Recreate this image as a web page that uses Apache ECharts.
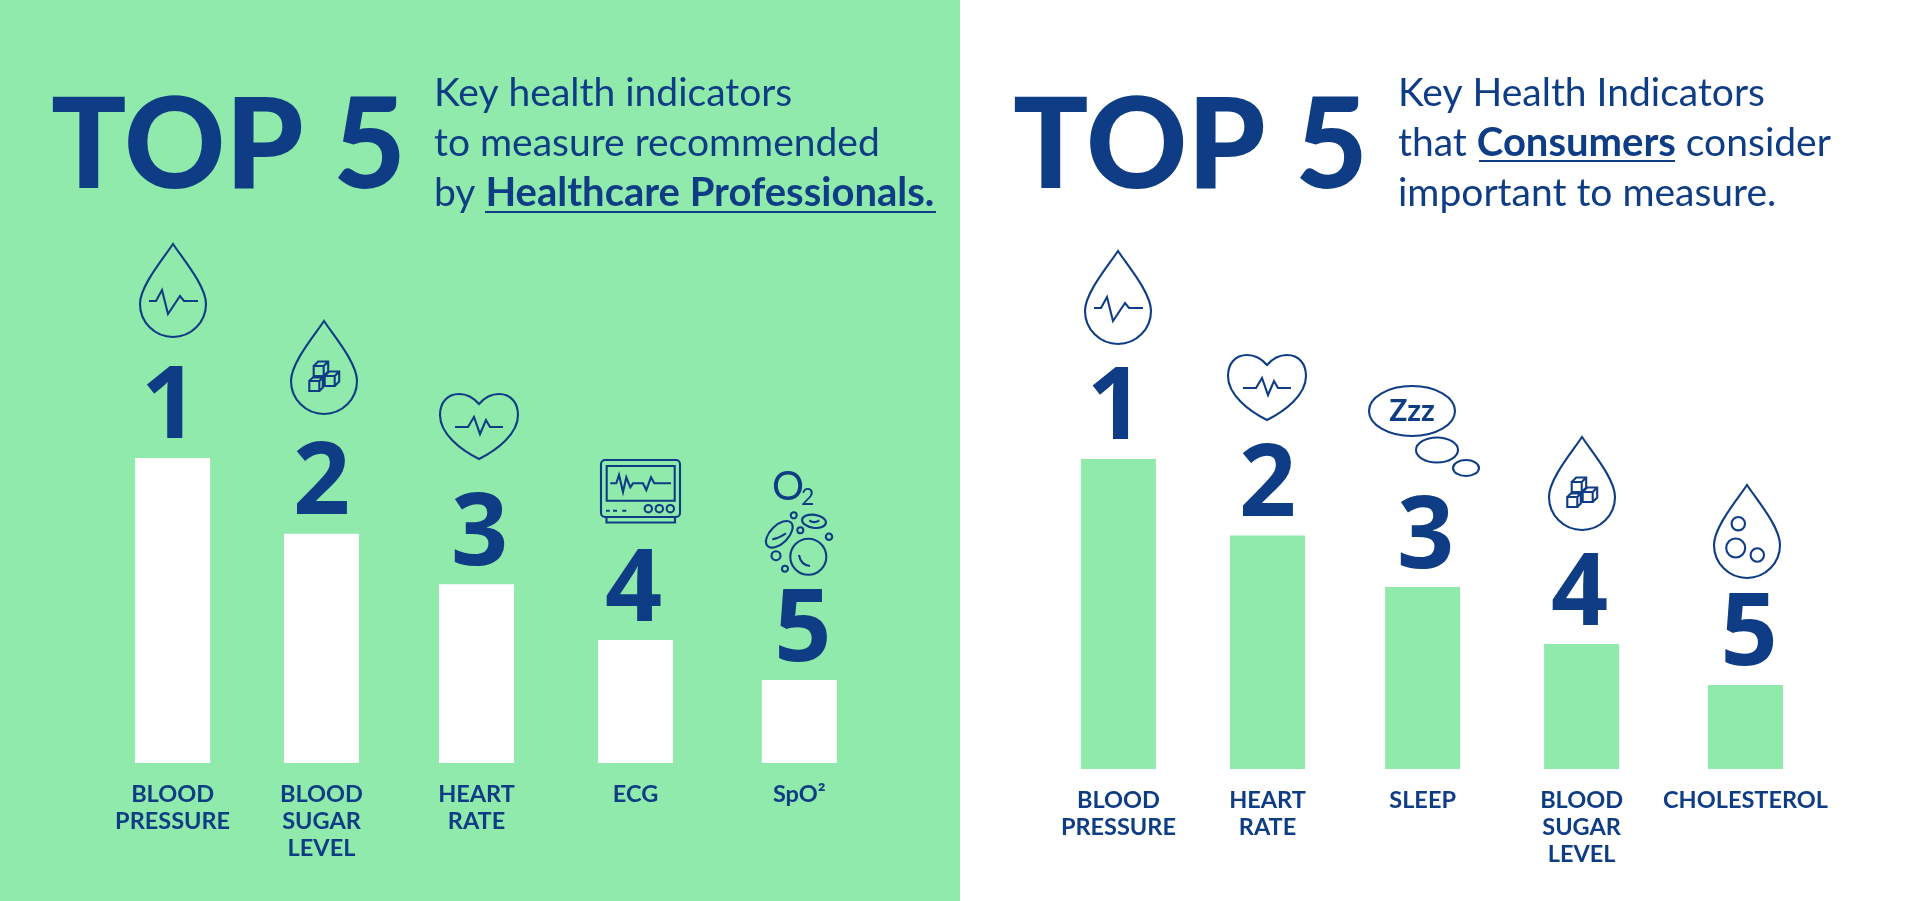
<!DOCTYPE html>
<html>
<head>
    <meta charset="utf-8" />
    <title>Top 5 health indicators</title>
    <script src="https://cdn.jsdelivr.net/npm/echarts@6/dist/echarts.min.js"></script>
    <style>
        html, body { margin: 0; padding: 0; background: #fff; }
        #main { width: 1920px; height: 901px; }
    </style>
</head>
<body>
    <div id="main"></div>
    <script type="text/javascript">
        // chart data (tallest bar = 100)
        var leftCategories = ['BLOOD\nPRESSURE', 'BLOOD\nSUGAR\nLEVEL', 'HEART\nRATE', 'ECG', 'SpO²'];
        var leftValues = [100, 75.2, 58.6, 40.3, 27.2];
        var rightCategories = ['BLOOD\nPRESSURE', 'HEART\nRATE', 'SLEEP', 'BLOOD\nSUGAR\nLEVEL', 'CHOLESTEROL'];
        var rightValues = [100, 75.3, 58.7, 40.3, 27.1];
        var ranks = ['1', '2', '3', '4', '5'];

        var NAVY = '#0f3d85';
        var GREEN = '#8feaab';
        var TEXT_FONT = 'Lato';

        var leftCenters = [172.6, 321.5, 476.5, 635.5, 799.3];
        var rightCenters = [1118.4, 1267.5, 1422.6, 1581.6, 1745.5];
        var rankShift = [-3, 0, 3, -2, 3.5];

        var grids = [], xAxes = [], yAxes = [], series = [];

        function addBar(name, value, rank, center, top, height, fill, shift) {
            var i = grids.length;
            grids.push({ left: center - 70, width: 140, top: top, height: height });
            xAxes.push({
                type: 'category', gridIndex: i, data: [name],
                axisLine: { show: false }, axisTick: { show: false },
                axisLabel: {
                    interval: 0, margin: 18, color: NAVY, lineHeight: 27,
                    fontFamily: TEXT_FONT, fontWeight: 'bold', fontSize: 23.5
                }
            });
            yAxes.push({ type: 'value', gridIndex: i, min: 0, max: 100, show: false });
            series.push({
                type: 'bar', xAxisIndex: i, yAxisIndex: i, barWidth: 75,
                itemStyle: { color: fill },
                label: {
                    show: true, position: 'top', distance: -2, offset: [shift, 0], formatter: rank, color: NAVY,
                    fontFamily: 'Open Sans', fontWeight: 'bold', fontSize: 100
                },
                data: [value]
            });
        }

        leftValues.forEach(function (v, i) {
            addBar(leftCategories[i], v, ranks[i], leftCenters[i], 458, 305, '#ffffff', rankShift[i]);
        });
        rightValues.forEach(function (v, i) {
            addBar(rightCategories[i], v, ranks[i], rightCenters[i], 459, 310, GREEN, rankShift[i]);
        });

        // icon outlines, local coordinates
        var DROP = 'M0 0C-10 15 -33 42 -33 60A33 33 0 0 0 33 60C33 42 10 15 0 0Z';
        var DROP_PULSE = 'M-24 57L-17 57L-11 46L-5 70L7 52L11 57L25 57';
        var HEART = 'M0 0C-6 -7 -13 -10 -20 -10C-32 -10 -39 -1 -39 11C-39 30 -18 46 0 55C18 46 39 30 39 11C39 -1 32 -10 20 -10C13 -10 6 -7 0 0Z';
        var HEART_PULSE = 'M-24 23L-11 23L-5 13L1 30L7 16L11 23L24 23';

        function cube(x, y, s, d) {
            return 'M' + x + ' ' + y + 'h' + s + 'v' + s + 'h' + (-s) + 'Z' +
                'M' + x + ' ' + y + 'l' + d + ' ' + (-d) + 'h' + s + 'v' + s + 'l' + (-d) + ' ' + d +
                'M' + (x + s) + ' ' + y + 'l' + d + ' ' + (-d);
        }
        var CUBES = cube(-10.3, 45, 10, 4.5) + cube(0.7, 55, 10, 4.5) + cube(-14.7, 60, 10, 3.5);

        function circle(cx, cy, r) {
            return 'M' + (cx - r) + ' ' + cy + 'A' + r + ' ' + r + ' 0 1 1 ' + (cx + r) + ' ' + cy +
                'A' + r + ' ' + r + ' 0 1 1 ' + (cx - r) + ' ' + cy + 'Z';
        }
        function ellipse(cx, cy, rx, ry) {
            return 'M' + (cx - rx) + ' ' + cy + 'A' + rx + ' ' + ry + ' 0 1 1 ' + (cx + rx) + ' ' + cy +
                'A' + rx + ' ' + ry + ' 0 1 1 ' + (cx - rx) + ' ' + cy + 'Z';
        }

        var BUBBLES = circle(-8.7, 38.7, 6.7) + circle(-11.3, 63, 9.5) + circle(10.3, 70, 6.7);

        var MONITOR = 'M4 0H75A4 4 0 0 1 79 4V53A4 4 0 0 1 75 57H4A4 4 0 0 1 0 53V4A4 4 0 0 1 4 0Z' +
            'M5.5 57V62.5H74V57M5.7 6H73.7V40.7H5.7Z' +
            'M9.3 23.3L15.3 23.3L18 15L22 32L25.3 17.3L29.3 27.3L32 23.3L42 23.3L45.3 30L50 17.3L53.3 23.3L70 23.3' +
            'M5 50.7H8.7M12 50.7H16M21.3 50.7H25.3' +
            circle(47.3, 48.7, 3.7) + circle(58.3, 48.7, 3.7) + circle(69.3, 48.7, 3.7);

        var CELLS = circle(233.7, 75.3, 3) + circle(240.3, 90.3, 3) + circle(269, 96.7, 3.2) +
            circle(216, 115.7, 4.5) + circle(225, 128.7, 3) + circle(248.3, 116.7, 18) +
            'M239 115Q240.7 125 250 126' +
            'M207.6 106A16.5 9 -45 1 1 231 82.6A16.5 9 -45 1 1 207.6 106Z' +
            'M212.3 99.3Q218.3 98.3 226 93.3' +
            'M242.1 79.6A12 6.5 8 1 1 265.9 83A12 6.5 8 1 1 242.1 79.6Z' +
            'M249.3 80.3Q254 84 259.3 80.3';

        var ZZZ = ellipse(0, 0, 43, 25) + ellipse(25, 39, 21, 12.5) + ellipse(54, 57, 13, 8);

        var icons = [
            { x: 173, y: 244, path: DROP + DROP_PULSE },
            { x: 324, y: 321, path: DROP + CUBES },
            { x: 479, y: 404, path: HEART + HEART_PULSE },
            { x: 601, y: 460, path: MONITOR },
            { x: 560, y: 440, path: CELLS, texts: [
                { text: 'O', x: 212, y: 47, size: 40 },
                { text: '2', x: 241, y: 58, size: 23 }
            ] },
            { x: 1118, y: 251, path: DROP + DROP_PULSE },
            { x: 1267, y: 365, path: HEART + HEART_PULSE },
            { x: 1412, y: 411, path: ZZZ, texts: [
                { text: 'Zzz', x: 0, y: 0, size: 30, bold: true }
            ] },
            { x: 1582, y: 437, path: DROP + CUBES },
            { x: 1747, y: 485, path: DROP + BUBBLES }
        ];

        series.push({
            type: 'custom',
            coordinateSystem: 'none',
            silent: true,
            data: icons.map(function (d, i) { return i; }),
            renderItem: function (params) {
                var ic = icons[params.dataIndex];
                var children = [{
                    type: 'path',
                    shape: { pathData: ic.path },
                    style: { fill: 'none', stroke: NAVY, lineWidth: 2.1 }
                }];
                (ic.texts || []).forEach(function (t) {
                    children.push({
                        type: 'text',
                        style: {
                            text: t.text, x: t.x, y: t.y, fill: NAVY,
                            font: (t.bold ? 'bold ' : '400 ') + t.size + 'px ' + TEXT_FONT,
                            textAlign: t.bold ? 'center' : 'left',
                            textVerticalAlign: 'middle'
                        }
                    });
                });
                return { type: 'group', x: ic.x, y: ic.y, children: children };
            }
        });

        function title(x) {
            return {
                type: 'text', x: x, y: 148,
                style: {
                    text: 'TOP 5', fill: NAVY, font: '900 125px ' + TEXT_FONT,
                    textVerticalAlign: 'middle'
                }
            };
        }
        function subLine(x, y, text) {
            return {
                type: 'text', x: x, y: y,
                style: {
                    text: text, fill: NAVY,
                    fontFamily: TEXT_FONT, fontSize: 39, fontWeight: 400,
                    textVerticalAlign: 'bottom',
                    rich: {
                        b: { fontFamily: TEXT_FONT, fontSize: 40, fontWeight: 'bold', fill: NAVY }
                    }
                }
            };
        }
        function underline(x1, x2, y) {
            return { type: 'line', shape: { x1: x1, y1: y, x2: x2, y2: y }, style: { stroke: NAVY, lineWidth: 2 } };
        }

        var myChart = echarts.init(document.getElementById('main'), null, { renderer: 'canvas' });
        myChart.setOption({
            animation: false,
            backgroundColor: '#ffffff',
            graphic: [
                { type: 'rect', z: -10, shape: { x: 0, y: 0, width: 960, height: 901 }, style: { fill: GREEN } },
                title(51),
                subLine(434, 113, 'Key health indicators'),
                subLine(434, 163, 'to measure recommended'),
                subLine(434, 213, 'by {b|Healthcare Professionals.}'),
                underline(485, 936, 212),
                title(1013),
                subLine(1398, 113, 'Key Health Indicators'),
                subLine(1398, 163, 'that {b|Consumers} consider'),
                subLine(1398, 213, 'important to measure.'),
                underline(1479, 1675, 161)
            ],
            grid: grids,
            xAxis: xAxes,
            yAxis: yAxes,
            series: series
        });
    </script>
</body>
</html>
